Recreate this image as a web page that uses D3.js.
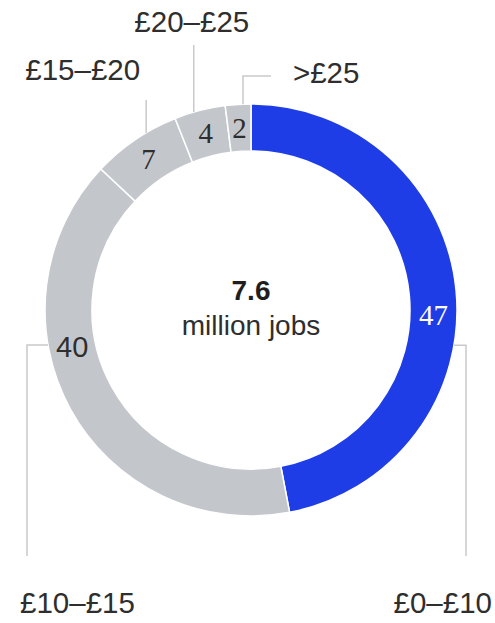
<!DOCTYPE html>
<html>
<head>
<meta charset="utf-8">
<script src="https://cdn.jsdelivr.net/npm/d3@7/dist/d3.min.js"></script>
<style>
  html, body { margin: 0; padding: 0; background: #ffffff; }
  svg { display: block; }
</style>
</head>
<body>
<script>
// Hourly pay bands and share of jobs (%)
const bands = ["£0–£10", "£10–£15", "£15–£20", "£20–£25", ">£25"];
const shares = [47, 40, 7, 4, 2];
const totalValue = "7.6";
const totalUnit = "million jobs";

const W = 495, H = 623;
const cx = 251, cy = 310;
const R = 206, r = 159;
const midR = (R + r) / 2;

const sansFont = "Liberation Sans, Arial, sans-serif";
const serifFont = "Liberation Serif, Times New Roman, serif";
const textColor = "#2e2e2e";
const lineColor = "#c9c9c9";

const color = d3.scaleOrdinal()
  .domain(bands)
  .range(["#1f3de6", "#c3c7cb", "#c3c7cb", "#c3c7cb", "#c3c7cb"]);

// Where along each slice the value label and leader line sit (0 = slice start, 1 = slice end)
const annot = {
  "£0–£10":  { valueAt: 0.54, leaderAt: 0.59, kind: "downRight", valueFont: serifFont, valueFill: "#ffffff" },
  "£10–£15": { valueAt: 0.62, leaderAt: 0.632, kind: "downLeft", valueFont: sansFont,  valueFill: textColor },
  "£15–£20": { valueAt: 0.5,  leaderAt: 0.643, kind: "upEnd",    valueFont: serifFont, valueFill: textColor },
  "£20–£25": { valueAt: 0.5,  leaderAt: 0.38,  kind: "upMiddle", valueFont: serifFont, valueFill: textColor },
  ">£25":    { valueAt: 0.5,  leaderAt: 0.69,  kind: "elbow",    valueFont: serifFont, valueFill: textColor }
};

const data = bands.map((b, i) => ({ band: b, value: shares[i] }));

const pie = d3.pie().value(d => d.value).sort(null).startAngle(0).endAngle(2 * Math.PI);
const arcs = pie(data);
const arc = d3.arc().innerRadius(r).outerRadius(R);

const svg = d3.select("body").append("svg")
  .attr("width", W).attr("height", H)
  .attr("viewBox", `0 0 ${W} ${H}`);

const g = svg.append("g").attr("transform", `translate(${cx},${cy})`);

// Ring slices
g.selectAll("path.slice")
  .data(arcs)
  .join("path")
  .attr("class", "slice")
  .attr("d", arc)
  .attr("fill", d => color(d.data.band))
  .attr("stroke", "#ffffff")
  .attr("stroke-width", 1.5);

// Polar helper: angle measured clockwise from 12 o'clock
const pt = (a, rad) => [Math.sin(a) * rad, -Math.cos(a) * rad];
const angleAt = (d, f) => d.startAngle + (d.endAngle - d.startAngle) * f;

// Value labels inside the ring
g.selectAll("text.value")
  .data(arcs)
  .join("text")
  .attr("class", "value")
  .each(function(d) {
    const a = annot[d.data.band];
    const [x, y] = pt(angleAt(d, a.valueAt), midR);
    d3.select(this)
      .attr("x", x).attr("y", y)
      .attr("dy", "0.35em")
      .attr("text-anchor", "middle")
      .style("font-family", a.valueFont)
      .attr("font-size", 29)
      .attr("fill", a.valueFill)
      .text(d.data.value);
  });

// Leader lines and band labels
const leaders = g.append("g")
  .attr("fill", "none")
  .attr("stroke", lineColor)
  .attr("stroke-width", 1.5);

const labels = g.append("g")
  .style("font-family", sansFont)
  .attr("font-size", 29.5)
  .attr("fill", textColor);

const bottomY = R + 40;
const labelBottomY = R + 97;

arcs.forEach(d => {
  const a = annot[d.data.band];
  const [x0, y0] = pt(angleAt(d, a.leaderAt), R);
  const path = d3.path();
  path.moveTo(x0, y0);
  let lx, ly, anchor;
  if (a.kind === "downRight") {
    const xv = R + 9;
    path.lineTo(xv, y0); path.lineTo(xv, bottomY);
    lx = W - cx - 3; ly = labelBottomY; anchor = "end";
  } else if (a.kind === "downLeft") {
    const xv = -R - 18;
    path.lineTo(xv, y0); path.lineTo(xv, bottomY);
    lx = xv - 7; ly = labelBottomY; anchor = "start";
  } else if (a.kind === "upEnd") {
    const yTop = -R - 4;
    path.lineTo(x0, yTop);
    lx = x0 - 6; ly = yTop - 20; anchor = "end";
  } else if (a.kind === "upMiddle") {
    const yTop = -R - 59;
    path.lineTo(x0, yTop);
    lx = x0 - 2; ly = yTop - 13; anchor = "middle";
  } else {
    const yTop = -R - 28;
    path.lineTo(x0, yTop); path.lineTo(x0 + 28, yTop);
    lx = x0 + 50; ly = yTop + 7; anchor = "start";
  }
  leaders.append("path").attr("d", path.toString());
  labels.append("text")
    .attr("x", lx).attr("y", ly)
    .attr("text-anchor", anchor)
    .text(d.data.band);
});

// Total in the centre
g.append("text")
  .attr("x", 0).attr("y", -10)
  .attr("text-anchor", "middle")
  .style("font-family", sansFont)
  .attr("font-weight", "bold")
  .attr("font-size", 28)
  .attr("fill", "#1e1e1e")
  .text(totalValue);

g.append("text")
  .attr("x", 0).attr("y", 25)
  .attr("text-anchor", "middle")
  .style("font-family", sansFont)
  .attr("font-size", 28)
  .attr("fill", textColor)
  .text(totalUnit);
</script>
</body>
</html>
